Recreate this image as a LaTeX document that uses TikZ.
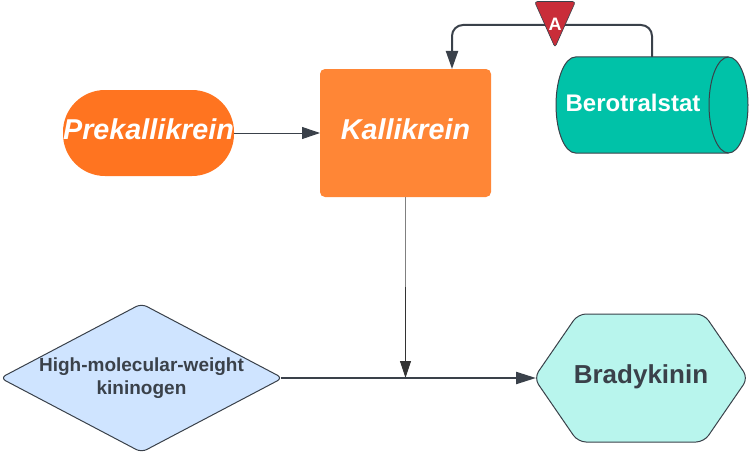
\documentclass[tikz,border=0pt]{standalone}
\usepackage{fontspec}
\setmainfont{Liberation Sans}
\usetikzlibrary{arrows.meta}
\usetikzlibrary{shapes.geometric}
\definecolor{inkgray}{HTML}{3A414A}
\definecolor{pillorange}{HTML}{FF7420}
\definecolor{boxorange}{HTML}{FF8636}
\definecolor{drumgreen}{HTML}{00C2A8}
\definecolor{tagred}{HTML}{C92D39}
\definecolor{diamondblue}{HTML}{CFE4FF}
\definecolor{hexmint}{HTML}{B8F5ED}
\begin{document}
\begin{tikzpicture}[x=1pt,y=1pt]
        \tikzset{
                arrowtip/.style={-{Triangle[length=#1,width=12pt]}},
                arrowtip/.default={18pt},
                whitetext/.style={text=white,text height=22pt,text depth=9.4pt,font=\bfseries\itshape\fontsize{28.7}{34}\selectfont},
                darktext/.style={text=inkgray,align=center},
                flat/.style={inner sep=0pt,outer sep=0pt}
        }
        \useasboundingbox (0,0) rectangle (749,-452);
        
        \coordinate (pre_center) at (148.5,-133);
        \coordinate (kal_center) at (405.5,-133);
        \coordinate (hmw_center) at (141.5,-378);
        \coordinate (bra_center) at (641,-378);
        \coordinate (tag_tip) at (555,-47.5);
        
        %Top row
        \node[fill=pillorange,rounded corners=42pt,minimum width=171pt,minimum height=86pt,flat,whitetext] (prekallikrein) at (pre_center) {Prekallikrein};
        \node[fill=boxorange,rounded corners=5pt,minimum width=171pt,minimum height=128pt,flat,whitetext] (kallikrein) at (kal_center) {Kallikrein};
        \draw [draw=inkgray,fill=drumgreen,line width=1pt] (575.5,-57) -- (728.5,-57) arc (90:-90:19.5 and 48) -- (575.5,-153) arc (270:90:19.5 and 48) -- cycle;
        \draw [draw=inkgray,line width=1pt] (728.5,-57) arc (90:270:19.5 and 48);
        \node[flat,text=white,font=\bfseries\fontsize{24}{28}\selectfont] (berotralstat) at (633,-103) {Berotralstat};
        
        %Bottom row
        \node[diamond,aspect=1.9,draw=inkgray,fill=diamondblue,rounded corners=6pt,line width=1pt,minimum width=282pt,minimum height=148pt,flat,darktext,font=\bfseries\fontsize{19}{23}\selectfont] (kininogen) at (hmw_center) {High-molecular-weight\\kininogen};
        \draw [draw=inkgray,fill=hexmint,rounded corners=8pt,line width=1pt] (534,-378) -- (578,-314) -- (704,-314) -- (748,-378) -- (704,-442) -- (578,-442) -- cycle;
        \node[minimum width=210pt,minimum height=128pt,flat,darktext,text height=19pt,text depth=8pt,font=\bfseries\fontsize{26}{30}\selectfont] (bradykinin) at (bra_center) {Bradykinin};
        
        %Connectors
        \coordinate (join) at (kal_center |- hmw_center);
        \coordinate (thin_end) at (405.5,-287);
        \coordinate (ber_top) at (652,-57);
        \coordinate (ber_up) at (652,-25);
        \coordinate (kal_up) at (452,-25);
        \coordinate (kal_in) at (452,-69);
        \draw [arrowtip,draw=inkgray,line width=1pt] (prekallikrein.east) -- (kallikrein.west |- prekallikrein.east);
        \draw [gray,line width=0.7pt] (kallikrein.south) -- (thin_end);
        \draw [-{Triangle[length=17pt,width=11pt]},draw=black!80,line width=1pt] (thin_end) -- (join);
        \draw [-{Triangle[length=20pt,width=12pt]},draw=inkgray,line width=2.2pt] ([xshift=-2pt]kininogen.east) -- (bradykinin.west);
        \draw [arrowtip,draw=inkgray,line width=2pt,rounded corners=11pt] (ber_top) -- (ber_up) -- (kal_up) -- (kal_in);
        
        %Tag on the feedback line
        \node[isosceles triangle,isosceles triangle stretches,shape border rotate=-90,anchor=apex,draw=inkgray,fill=tagred,rounded corners=3pt,line width=0.6pt,minimum width=41pt,minimum height=46pt,flat] (tag) at (tag_tip) {};
        \node[flat,text=white,font=\bfseries\fontsize{18}{20}\selectfont] (tag_text) at (555,-24) {A};
\end{tikzpicture}
\end{document}
